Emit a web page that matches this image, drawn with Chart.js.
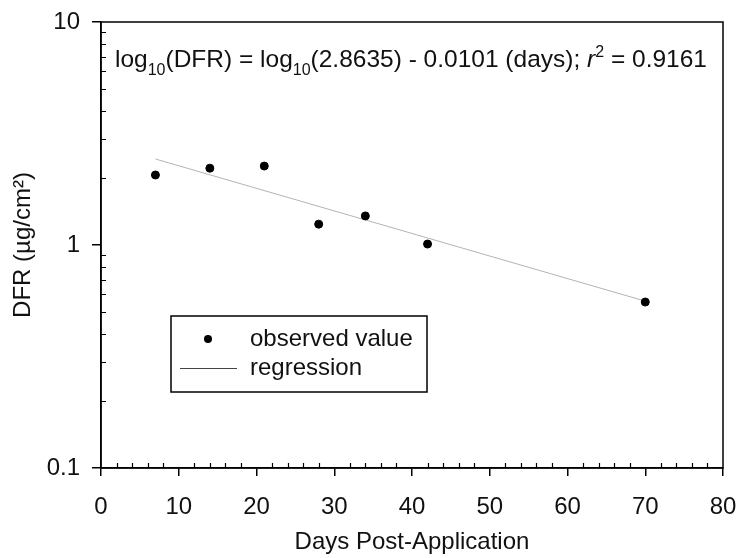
<!DOCTYPE html>
<html>
<head>
<meta charset="utf-8">
<script src="https://cdn.jsdelivr.net/npm/chart.js@4"></script>
<style>
  html, body { margin: 0; padding: 0; background: #fff; }
</style>
</head>
<body>
<canvas id="chart" width="738" height="558"></canvas>
<script>
// observed dislodgeable foliar residue
const days = [7, 14, 21, 28, 34, 42, 70];
const dfr = [2.06, 2.21, 2.26, 1.24, 1.35, 1.01, 0.555];

// regression line end points
const regDays = [7, 70];
const regDfr = [2.43, 0.56];

const xTicks = [0, 10, 20, 30, 40, 50, 60, 70, 80];
const yTicks = [0.1, 1, 10];

const FONT = '"Liberation Sans", Arial, Helvetica, sans-serif';
const INK = '#111';

Chart.defaults.font.family = FONT;
Chart.defaults.font.size = 24;
Chart.defaults.color = INK;

// frame + inward minor ticks
const framePlugin = {
    id: 'frame',
    afterDraw(chart) {
        const { ctx, chartArea: a } = chart;
        const xs = chart.scales.x;
        const ys = chart.scales.y;
        ctx.save();
        ctx.strokeStyle = '#000';
        ctx.lineWidth = 1.5;
        ctx.strokeRect(a.left, a.top, a.right - a.left, a.bottom - a.top);

        ctx.lineWidth = 1.2;
        ctx.beginPath();
        for (let v = 2; v < 80; v += 2) {
            if (v % 10 === 0) continue;
            const px = Math.round(xs.getPixelForValue(v)) + 0.5;
            ctx.moveTo(px, a.bottom);
            ctx.lineTo(px, a.bottom - 5);
        }
        [0.1, 1].forEach((d) => {
            for (let m = 2; m <= 9; m++) {
                const py = Math.round(ys.getPixelForValue(d * m)) + 0.5;
                ctx.moveTo(a.left, py);
                ctx.lineTo(a.left + 5, py);
            }
        });
        ctx.stroke();
        ctx.restore();
    },
};

// regression equation with sub/superscripts
const equationPlugin = {
    id: 'equation',
    afterDatasetsDraw(chart) {
        const { ctx, chartArea: a } = chart;
        const big = '24.5px ' + FONT;
        const small = '16px ' + FONT;
        const parts = [
            ['log', big, 0],
            ['10', small, 8],
            ['(DFR) = log', big, 0],
            ['10', small, 8],
            ['(2.8635) - 0.0101 (days); ', big, 0],
            ['r', 'italic ' + big, 0],
            ['2', small, -10],
            [' = 0.9161', big, 0],
        ];
        let x = a.left + 14;
        const y = a.top + 45;
        ctx.save();
        ctx.fillStyle = INK;
        ctx.textBaseline = 'alphabetic';
        ctx.textAlign = 'left';
        parts.forEach(([t, f, dy]) => {
            ctx.font = f;
            ctx.fillText(t, x, y + dy);
            x += ctx.measureText(t).width;
        });
        ctx.restore();
    },
};

// boxed legend inside the plot
const legendBoxPlugin = {
    id: 'legendBox',
    afterDraw(chart) {
        const { ctx, chartArea: a } = chart;
        const left = a.left + 70;
        const top = a.top + 294;
        const w = 256;
        const h = 76;
        ctx.save();
        ctx.strokeStyle = '#000';
        ctx.lineWidth = 1.5;
        ctx.strokeRect(left, top, w, h);

        ctx.fillStyle = '#000';
        ctx.beginPath();
        ctx.arc(left + 37, top + 23, 4, 0, Math.PI * 2);
        ctx.fill();

        ctx.strokeStyle = '#444';
        ctx.lineWidth = 1;
        ctx.beginPath();
        ctx.moveTo(left + 9, top + 52.5);
        ctx.lineTo(left + 66, top + 52.5);
        ctx.stroke();

        ctx.fillStyle = INK;
        ctx.font = '24px ' + FONT;
        ctx.textBaseline = 'middle';
        ctx.fillText(chart.data.datasets[0].label, left + 79, top + 23);
        ctx.fillText(chart.data.datasets[1].label, left + 79, top + 52);
        ctx.restore();
    },
};

new Chart(document.getElementById('chart'), {
    type: 'scatter',
    data: {
        datasets: [
            {
                label: 'observed value',
                data: days.map((d, i) => ({ x: d, y: dfr[i] })),
                backgroundColor: '#000',
                borderColor: '#000',
                pointRadius: 4,
                showLine: false,
            },
            {
                label: 'regression',
                data: regDays.map((d, i) => ({ x: d, y: regDfr[i] })),
                borderColor: '#b4b4b4',
                borderWidth: 1,
                pointRadius: 0,
                showLine: true,
            },
        ],
    },
    options: {
        responsive: false,
        animation: false,
        layout: { padding: { left: 0, top: 22, right: 15, bottom: 0 } },
        plugins: {
            legend: { display: false },
            tooltip: { enabled: false },
        },
        scales: {
            x: {
                type: 'linear',
                min: 0,
                max: 80,
                afterBuildTicks: (scale) => {
                    scale.ticks = xTicks.map((v) => ({ value: v }));
                },
                afterFit: (scale) => {
                    scale.height = 90;
                    scale.paddingLeft = 0;
                    scale.paddingRight = 0;
                },
                grid: {
                    drawOnChartArea: false,
                    drawTicks: true,
                    tickLength: 8,
                    color: '#000',
                    lineWidth: 1.5,
                },
                border: { display: true, color: '#000', width: 1.5 },
                ticks: { padding: 17, color: INK, maxRotation: 0 },
                title: {
                    display: true,
                    text: 'Days Post-Application',
                    color: INK,
                    padding: { top: 0, bottom: 1 },
                },
            },
            y: {
                type: 'logarithmic',
                min: 0.1,
                max: 10,
                afterBuildTicks: (scale) => {
                    scale.ticks = yTicks.map((v) => ({ value: v }));
                },
                afterFit: (scale) => {
                    scale.width = 101;
                    scale.paddingTop = 0;
                    scale.paddingBottom = 0;
                },
                grid: {
                    drawOnChartArea: false,
                    drawTicks: true,
                    tickLength: 9,
                    color: '#000',
                    lineWidth: 1.5,
                },
                border: { display: true, color: '#000', width: 1.5 },
                ticks: {
                    padding: 12,
                    color: INK,
                    callback: (v) => String(v),
                },
                title: {
                    display: true,
                    text: 'DFR (µg/cm²)',
                    color: INK,
                    padding: { top: 9, bottom: 0 },
                },
            },
        },
    },
    plugins: [framePlugin, equationPlugin, legendBoxPlugin],
});
</script>
</body>
</html>
